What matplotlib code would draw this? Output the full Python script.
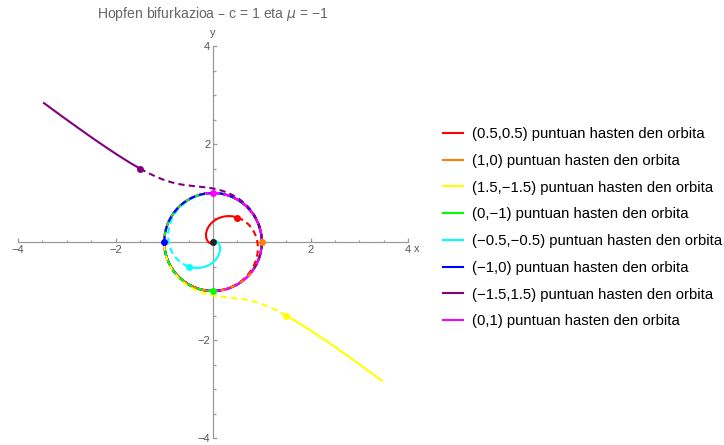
import numpy as np
import matplotlib
matplotlib.use("Agg")
import matplotlib.pyplot as plt
from matplotlib.lines import Line2D
from matplotlib.ticker import MultipleLocator, FixedLocator

plt.rcParams['font.family'] = ['Liberation Sans', 'DejaVu Sans']

# Hopf normal form in polar coordinates: r' = mu*r + c*r^3, theta' = omega
c = 1.0
mu = -1.0
omega = 1.0

start_points = [(0.5, 0.5), (1.0, 0.0), (1.5, -1.5), (0.0, -1.0),
                (-0.5, -0.5), (-1.0, 0.0), (-1.5, 1.5), (0.0, 1.0)]
start_labels = ["(0.5,0.5)", "(1,0)", "(1.5,\u22121.5)", "(0,\u22121)",
                "(\u22120.5,\u22120.5)", "(\u22121,0)", "(\u22121.5,1.5)", "(0,1)"]
orbit_colors = ["#ff0000", "#ff8000", "#ffff00", "#00ff00",
                "#00ffff", "#0000ff", "#800080", "#ff00ff"]
equilibrium = (0.0, 0.0)

t_forward = 8.0
t_backward = 3.0
r_max = 4.5

x_ticks_major = [-4, -2, 2, 4]
y_ticks_major = [-4, -2, 2, 4]


def orbit(p0, t_end, n=4000):
    """Closed-form solution of the normal form starting at p0."""
    x0, y0 = p0
    r0 = np.hypot(x0, y0)
    th0 = np.arctan2(y0, x0)
    A = -c / mu
    B0 = 1.0 / r0 ** 2 - A
    # stop escaping orbits once they reach r_max
    if t_end > 0 and B0 < 0:
        t_stop = np.log((1.0 / r_max ** 2 - A) / B0) / (-2.0 * mu)
        t_end = min(t_end, t_stop)
    t = np.linspace(0.0, t_end, n)
    inv_r2 = A + B0 * np.exp(-2.0 * mu * t)
    r = 1.0 / np.sqrt(inv_r2)
    th = th0 + omega * t
    return r * np.cos(th), r * np.sin(th)


fig = plt.figure(figsize=(7.24, 4.45), dpi=100)
ax = fig.add_axes([18 / 724, 7 / 445, 390 / 724, 392 / 445])
ax.set_xlim(-4, 4)
ax.set_ylim(-4, 4)

lw = 1.5
# forward orbits (solid)
for p0, col in zip(start_points, orbit_colors):
    xs, ys = orbit(p0, t_forward)
    ax.plot(xs, ys, color=col, lw=lw, solid_capstyle='butt', zorder=3)
# backward orbits (dashed)
for p0, col in zip(start_points, orbit_colors):
    xs, ys = orbit(p0, -t_backward)
    ax.plot(xs, ys, color=col, lw=lw, dashes=(3, 2), zorder=4)
# starting points
for p0, col in zip(start_points, orbit_colors):
    ax.plot([p0[0]], [p0[1]], 'o', color=col, ms=4.0, mec=col, zorder=6)
ax.plot([equilibrium[0]], [equilibrium[1]], 'o', color='#222222', ms=4.0, zorder=7)

# Axes through the origin
axis_col = '#999999'
for s in ['top', 'right']:
    ax.spines[s].set_visible(False)
ax.spines['left'].set_position(('data', 0))
ax.spines['bottom'].set_position(('data', 0))
for s in ['left', 'bottom']:
    ax.spines[s].set_color(axis_col)
    ax.spines[s].set_linewidth(0.9)
    ax.spines[s].set_zorder(2)
ax.xaxis.set_major_locator(FixedLocator(x_ticks_major))
ax.yaxis.set_major_locator(FixedLocator(y_ticks_major))
ax.xaxis.set_minor_locator(MultipleLocator(0.5))
ax.yaxis.set_minor_locator(MultipleLocator(0.5))
ax.tick_params(which='both', direction='in', color=axis_col, labelsize=8,
               labelcolor='#555555', width=0.9)
ax.tick_params(which='major', length=3.2, pad=2)
ax.tick_params(which='minor', length=1.8)
fmt = lambda v: ("\u2212" if v < 0 else "") + f"{abs(v):g}"
ax.set_xticklabels([fmt(v) for v in x_ticks_major])
ax.set_yticklabels([fmt(v) for v in y_ticks_major])
ax.patch.set_visible(False)

# axis names
fig.text(213 / 724, 1 - 33 / 445, "y", ha='center', va='center', fontsize=8, color='#555555')
fig.text(417 / 724, 1 - 249 / 445, "x", ha='center', va='center', fontsize=8, color='#555555')

# title
fig.text(213 / 724, 1 - 14 / 445, "Hopfen bifurkazioa \u2013 c = 1 eta $\\mu$ = \u22121",
         ha='center', va='center', fontsize=10.1, color='#666666')

handles = [Line2D([0], [0], color=col, lw=lw) for col in orbit_colors]
labels = [f"{s} puntuan hasten den orbita" for s in start_labels]
fig.legend(handles, labels, loc='upper left', bbox_to_anchor=(443 / 724, 1 - 127 / 445),
           frameon=False, fontsize=10.7, handlelength=1.35, handletextpad=0.6,
           labelspacing=0.86, borderpad=0, borderaxespad=0)

fig.savefig("out.png", dpi=100)
